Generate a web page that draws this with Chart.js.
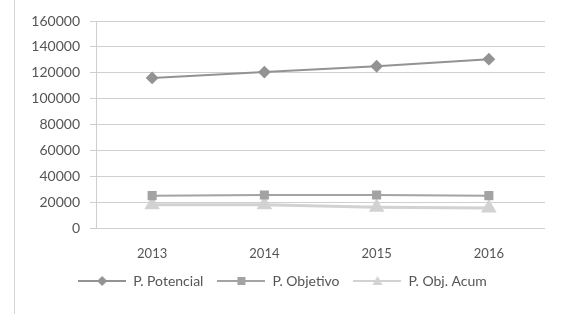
<!DOCTYPE html>
<html>
<head>
<meta charset="utf-8">
<script src="https://cdn.jsdelivr.net/npm/chart.js@4"></script>
<style>
  html, body { margin: 0; padding: 0; background: #fff; }
  #marco { position: relative; width: 572px; height: 314px; }
  #borde { position: absolute; left: 14px; top: 0; width: 1px; height: 314px; background: #d4d4d4; }
</style>
</head>
<body>
<div id="marco">
  <div id="borde"></div>
  <canvas id="grafico" width="572" height="314"></canvas>
</div>
<script>
// datos
const anios = ['2013', '2014', '2015', '2016'];
const potencial = [116000, 120500, 125000, 130500];
const objetivo = [25000, 25500, 25500, 25000];
const objAcum = [18000, 18000, 16000, 15500];
const nombres = ['P. Potencial', 'P. Objetivo', 'P. Obj. Acum'];

// muestra de leyenda: linea con marcador en el centro
function muestra(color, forma) {
  let c = document.createElement('canvas');
  c.width = 48; c.height = 12;
  let g = c.getContext('2d');
  g.strokeStyle = color; g.fillStyle = color; g.lineWidth = 2;
  g.beginPath(); g.moveTo(0, 6); g.lineTo(48, 6); g.stroke();
  g.beginPath();
  if (forma == 'rombo') {
    g.moveTo(24, 1); g.lineTo(29, 6); g.lineTo(24, 11); g.lineTo(19, 6);
  } else if (forma == 'cuadro') {
    g.rect(20, 2, 8, 8);
  } else {
    g.moveTo(24, 1); g.lineTo(29, 10); g.lineTo(19, 10);
  }
  g.closePath(); g.fill();
  return c;
}

const colores = ['#939393', '#a3a3a3', '#d2d2d2'];
const muestras = [muestra(colores[0], 'rombo'), muestra(colores[1], 'cuadro'), muestra(colores[2], 'tri')];

const ctx = document.getElementById('grafico').getContext('2d');
const chart = new Chart(ctx, {
  type: 'line',
  data: {
    labels: anios,
    datasets: [
      { label: nombres[0], data: potencial, borderColor: colores[0], backgroundColor: colores[0],
        borderWidth: 2, pointStyle: 'rectRot', pointRadius: 5 },
      { label: nombres[1], data: objetivo, borderColor: colores[1], backgroundColor: colores[1],
        borderWidth: 2, pointStyle: 'rect', pointRadius: 5 },
      { label: nombres[2], data: objAcum, borderColor: colores[2], backgroundColor: colores[2],
        borderWidth: 3, pointStyle: 'triangle', pointRadius: 6 }
    ]
  },
  options: {
    responsive: false,
    animation: false,
    layout: { padding: { left: 20, right: 27, top: 21, bottom: 16 } },
    scales: {
      x: {
        offset: true,
        grid: { display: false, drawTicks: false },
        border: { display: false },
        ticks: { color: '#555', font: { family: 'Lato', size: 13 }, padding: 18, maxRotation: 0 },
        afterFit: function(s) { s.height = 32; }
      },
      y: {
        min: 0, max: 160000,
        ticks: { stepSize: 20000, color: '#555', font: { family: 'Lato', size: 14 }, padding: 10,
                 callback: function(v) { return String(v); } },
        grid: { color: '#cfcfcf', tickLength: 6, tickColor: '#cfcfcf' },
        border: { display: true, color: '#cfcfcf' },
        afterFit: function(s) { s.width = 76; }
      }
    },
    plugins: {
      tooltip: { enabled: false },
      legend: {
        position: 'bottom',
        labels: {
          color: '#555',
          font: { family: 'Lato', size: 14 },
          usePointStyle: true,
          pointStyleWidth: 48,
          padding: 14,
          generateLabels: function(ch) {
            let items = Chart.defaults.plugins.legend.labels.generateLabels(ch);
            items.forEach(function(it, i) { it.pointStyle = muestras[i]; });
            return items;
          }
        }
      }
    }
  }
});
</script>
</body>
</html>
